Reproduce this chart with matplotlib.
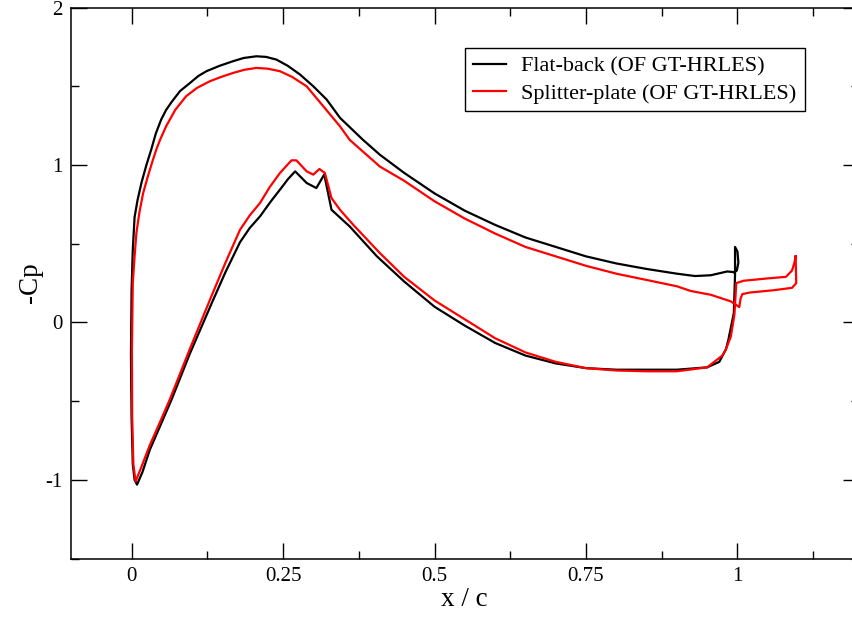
import matplotlib
matplotlib.use("Agg")
import matplotlib.pyplot as plt
from matplotlib.ticker import MultipleLocator

plt.rcParams['font.family'] = ['Liberation Serif', 'DejaVu Serif']
plt.rcParams['axes.unicode_minus'] = False

# Flat-back: one closed loop, upper surface TE -> LE, then lower surface LE -> TE
flat_x = [0.994, 0.983, 0.956, 0.93, 0.9, 0.85, 0.8, 0.75, 0.7, 0.65, 0.6, 0.55,
          0.5, 0.45, 0.41, 0.382, 0.344, 0.322, 0.30, 0.278, 0.258, 0.239, 0.222,
          0.206, 0.185, 0.167, 0.145, 0.1235, 0.11, 0.096, 0.08, 0.066, 0.057,
          0.049, 0.04, 0.0326, 0.0245, 0.0165, 0.01, 0.005, 0.002, 0.0, -0.001,
          0.0, 0.002, 0.005, 0.009, 0.018, 0.03, 0.048, 0.066, 0.096, 0.132, 0.155,
          0.179, 0.195, 0.212, 0.23, 0.245, 0.258, 0.27, 0.289, 0.305, 0.318, 0.330,
          0.36, 0.405, 0.45, 0.5, 0.55, 0.6, 0.65, 0.7, 0.75, 0.8, 0.85, 0.9, 0.95,
          0.97, 0.981, 0.985, 0.994, 0.996, 0.996, 1.0, 1.0015, 0.999, 0.994]
flat_cp = [0.32, 0.324, 0.30, 0.295, 0.31, 0.34, 0.375, 0.42, 0.48, 0.54, 0.62, 0.71,
           0.82, 0.95, 1.065, 1.16, 1.30, 1.416, 1.50, 1.575, 1.63, 1.670, 1.687,
           1.691, 1.68, 1.659, 1.63, 1.596, 1.565, 1.52, 1.47, 1.40, 1.35,
           1.29, 1.20, 1.10, 1.0, 0.89, 0.78, 0.67, 0.46, 0.2, -0.2,
           -0.6, -0.9, -1.0, -1.03, -0.95, -0.81, -0.65, -0.49, -0.20, 0.12, 0.32,
           0.51, 0.60, 0.674, 0.77, 0.844, 0.91, 0.96, 0.886, 0.854, 0.94, 0.716,
           0.61, 0.42, 0.26, 0.10, -0.02, -0.13, -0.21, -0.26, -0.29, -0.30, -0.30, -0.30, -0.285,
           -0.25, -0.17, -0.11, 0.06, 0.3, 0.48, 0.45, 0.38, 0.33, 0.32]

# Splitter-plate: one closed loop, splitter tip -> lower surface -> LE -> upper surface -> splitter
split_x = [1.096, 1.094, 1.09, 1.08, 1.05, 1.01, 0.998, 0.995, 0.989, 0.981, 0.975,
           0.95, 0.9, 0.85, 0.8, 0.75, 0.7, 0.65, 0.6, 0.55, 0.5, 0.45, 0.41, 0.366,
           0.344, 0.330, 0.319, 0.31, 0.30, 0.289, 0.272, 0.264, 0.245, 0.228, 0.212,
           0.195, 0.179, 0.155, 0.13, 0.096, 0.063, 0.045, 0.03, 0.015, 0.0066, 0.003,
           0.001, 0.0006, 0.002, 0.005, 0.008, 0.013, 0.019, 0.027, 0.035, 0.041, 0.047,
           0.057, 0.072, 0.09, 0.108, 0.129, 0.148, 0.1675, 0.186, 0.206, 0.225, 0.245,
           0.265, 0.289, 0.315, 0.344, 0.36, 0.41, 0.45, 0.5, 0.55, 0.6, 0.65, 0.7,
           0.75, 0.8, 0.85, 0.9, 0.923, 0.956, 0.989, 1.003, 1.005, 1.008, 1.02, 1.06,
           1.09, 1.097, 1.096]
split_cp = [0.42, 0.38, 0.33, 0.29, 0.28, 0.265, 0.25, 0.05, -0.09, -0.17, -0.21,
            -0.285, -0.31, -0.31, -0.305, -0.29, -0.25, -0.19, -0.10, 0.02, 0.14, 0.29, 0.44, 0.62,
            0.716, 0.79, 0.95, 0.975, 0.939, 0.96, 1.03, 1.03, 0.95, 0.86, 0.759,
            0.68, 0.589, 0.38, 0.15, -0.17, -0.49, -0.65, -0.78, -0.93, -1.01, -0.9,
            -0.6, -0.17, 0.25, 0.42, 0.57, 0.70, 0.82, 0.93, 1.03, 1.10, 1.16,
            1.246, 1.35, 1.437, 1.49, 1.532, 1.56, 1.585, 1.605, 1.617, 1.612, 1.596,
            1.56, 1.50, 1.38, 1.246, 1.16, 0.99, 0.90, 0.77, 0.66, 0.565, 0.48, 0.42,
            0.36, 0.31, 0.27, 0.23, 0.20, 0.176, 0.134, 0.098, 0.15, 0.18, 0.19, 0.205,
            0.22, 0.25, 0.42]

x_ticks = [0, 0.25, 0.5, 0.75, 1]
x_labels = ["0", "0.25", "0.5", "0.75", "1"]
y_ticks = [-1, 0, 1, 2]
y_labels = ["-1", "0", "1", "2"]

fig = plt.figure(figsize=(8.52, 6.2), dpi=100)
ax = fig.add_axes([0.0833, 0.099, 0.9245, 0.8887])

ax.plot(flat_x, flat_cp, color='black', lw=1.6, label='Flat-back (OF GT-HRLES)')
ax.plot(split_x, split_cp, color='red', lw=1.6, label='Splitter-plate (OF GT-HRLES)')

ax.set_xlim(-0.1, 1.2)
ax.set_ylim(-1.5, 2)
ax.set_xticks(x_ticks)
ax.set_xticklabels(x_labels)
ax.set_yticks(y_ticks)
ax.set_yticklabels(y_labels)
ax.xaxis.set_minor_locator(MultipleLocator(0.125))
ax.yaxis.set_minor_locator(MultipleLocator(0.5))
ax.tick_params(which='both', direction='in', top=True, right=True, labelsize=15, width=1)
ax.tick_params(which='major', length=11.5, pad=6)
ax.tick_params(which='minor', length=5.8)
for s in ax.spines.values():
    s.set_linewidth(1.1)

ax.set_xlabel('x / c', fontsize=19.5, labelpad=1)
ax.set_ylabel('-Cp', fontsize=19.5, labelpad=2)

leg = ax.legend(loc='upper left', bbox_to_anchor=(0.5, 0.9265), borderaxespad=0,
                fontsize=16, fancybox=False, framealpha=1, edgecolor='black',
                handlelength=1.5, handletextpad=0.7, labelspacing=0.3,
                borderpad=0.35)
leg.get_frame().set_linewidth(1.0)

fig.savefig('out.png', dpi=100)
